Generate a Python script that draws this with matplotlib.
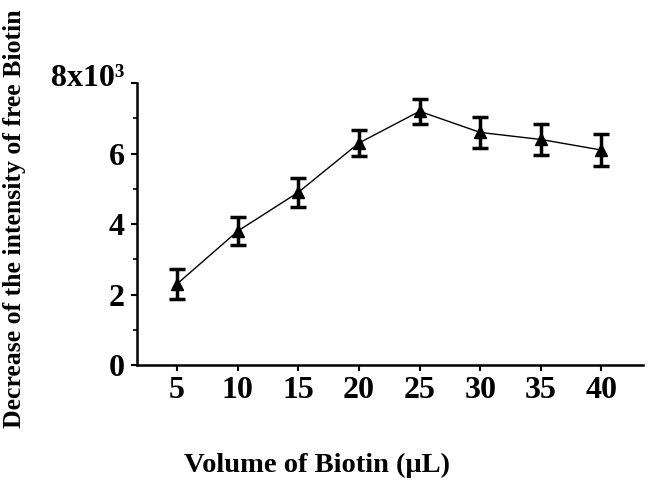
import matplotlib
matplotlib.use("Agg")
import matplotlib.pyplot as plt
import matplotlib.transforms as mtransforms
from matplotlib.ticker import MultipleLocator

plt.rcParams["font.family"] = "Liberation Serif"
plt.rcParams["font.weight"] = "bold"

volume = [5, 10, 15, 20, 25, 30, 35, 40]
decrease = [2300, 3800, 4900, 6300, 7200, 6600, 6400, 6100]
err = [420, 400, 420, 370, 360, 450, 450, 460]

y_ticks = [0, 2000, 4000, 6000, 8000]
y_labels = ["0", "2", "4", "6", "8x10³"]

fig = plt.figure(figsize=(6.5, 4.86), dpi=100)
ax = fig.add_axes([0.2108, 0.249, 0.778, 0.58])

ax.errorbar(volume, decrease, yerr=err, color="black", lw=1.0,
            marker="^", markersize=8, elinewidth=2.5, capsize=6, capthick=2.5)

ax.set_xlim(1.7, 43.4)
ax.set_ylim(0, 8000)
ax.set_xticks(volume)
ax.set_yticks(y_ticks)
ax.set_yticklabels(y_labels)
ax.yaxis.set_minor_locator(MultipleLocator(1000))

for side in ["top", "right"]:
    ax.spines[side].set_visible(False)
for side in ["left", "bottom"]:
    ax.spines[side].set_linewidth(1.8)

ax.tick_params(axis="both", which="major", labelsize=23, width=1.5, length=4)
ax.tick_params(axis="y", which="minor", width=1.2, length=3)
ax.tick_params(axis="x", pad=4)
ax.tick_params(axis="y", pad=5)

# top label sits a little above its tick
top = ax.get_yticklabels()[-1]
top.set_transform(top.get_transform() +
                  mtransforms.ScaledTranslation(0, 0.08, fig.dpi_scale_trans))

fig.text(0.488, 0.043, "Volume of Biotin (μL)", fontsize=20.5,
         fontweight="bold", ha="center", va="center")
fig.text(0.023, 0.55, "Decrease of the intensity of free Biotin", rotation=90,
         fontsize=18.5, fontweight="bold", ha="center", va="center")

fig.savefig("out.png", dpi=100)
